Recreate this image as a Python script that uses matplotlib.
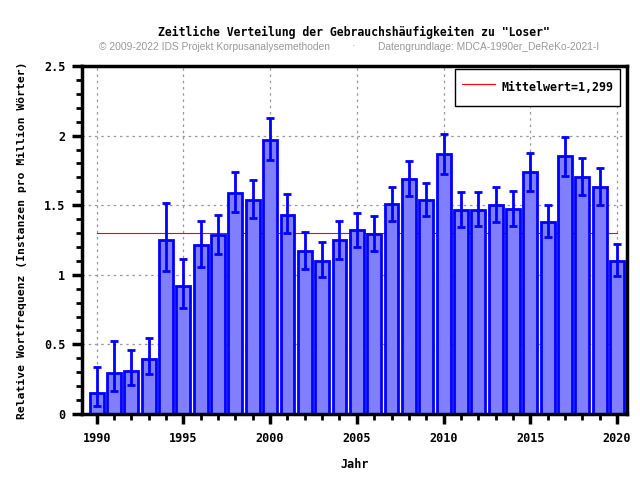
import matplotlib
matplotlib.use("Agg")
import matplotlib.pyplot as plt
from matplotlib.ticker import MultipleLocator, FixedLocator
import numpy as np

# data
years = list(range(1990, 2021))
freq = [0.148, 0.296, 0.31, 0.396, 1.249, 0.919, 1.213, 1.289, 1.585, 1.535,
        1.965, 1.43, 1.17, 1.098, 1.249, 1.32, 1.292, 1.506, 1.688, 1.538,
        1.865, 1.464, 1.464, 1.499, 1.473, 1.736, 1.378, 1.85, 1.70, 1.628,
        1.098]
err_hi = [0.339, 0.523, 0.458, 0.547, 1.514, 1.11, 1.385, 1.428, 1.736, 1.678,
          2.123, 1.578, 1.304, 1.234, 1.39, 1.447, 1.421, 1.633, 1.815, 1.662,
          2.015, 1.593, 1.593, 1.628, 1.60, 1.872, 1.499, 1.987, 1.836, 1.764,
          1.22]
err_lo = [0.06, 0.167, 0.21, 0.289, 1.027, 0.762, 1.055, 1.148, 1.449, 1.406,
          1.822, 1.299, 1.039, 0.981, 1.117, 1.199, 1.168, 1.39, 1.564, 1.421,
          1.726, 1.342, 1.349, 1.382, 1.349, 1.605, 1.268, 1.712, 1.576, 1.504,
          0.989]
mean_value = 1.299
ytick_labels = ['0', '0.5', '1', '1.5', '2', '2.5']

mono = {'family': 'DejaVu Sans Mono', 'weight': 'bold'}

x = np.array(years)
y = np.array(freq)
yerr = np.array([y - np.array(err_lo), np.array(err_hi) - y])

fig = plt.figure(figsize=(6.4, 4.8), dpi=100, facecolor='w')
axe = fig.add_axes([0.128, 0.1375, 0.851, 0.725])

axe.grid(color='#999999', linestyle=(0, (2, 3)), linewidth=0.9, zorder=0)
axe.set_axisbelow(True)

axe.plot([years[0], years[-1]], [mean_value, mean_value], color='red', linewidth=0.8,
         label='Mittelwert=1,299', zorder=1)
axe.bar(x, y, width=0.8, color='#8080ff', edgecolor='#0000ff', linewidth=2, zorder=2)
axe.errorbar(x, y, yerr=yerr, fmt='none', ecolor='#0000ff', elinewidth=2,
             capsize=2.7, capthick=2, zorder=3)

axe.set_xlim(1989.15, 2020.55)
axe.set_ylim(0, 2.5)
axe.xaxis.set_major_locator(FixedLocator([1990, 1995, 2000, 2005, 2010, 2015, 2020]))
axe.xaxis.set_minor_locator(MultipleLocator(1))
axe.set_yticks([0, 0.5, 1, 1.5, 2, 2.5])
axe.set_yticklabels(ytick_labels, **mono, fontsize=8.5)
axe.yaxis.set_minor_locator(MultipleLocator(0.1))
for lab in axe.get_xticklabels():
    lab.set_fontfamily('DejaVu Sans Mono')
    lab.set_fontweight('bold')
    lab.set_fontsize(8.5)
axe.tick_params(axis='both', which='major', direction='out', length=7, width=2.5)
axe.tick_params(axis='x', which='major', pad=6)
axe.tick_params(axis='y', which='major', pad=5)
axe.tick_params(axis='both', which='minor', direction='out', length=4, width=2)
for s in axe.spines.values():
    s.set_linewidth(2.5)

axe.set_xlabel('Jahr', fontsize=8.5, labelpad=9, **mono)
axe.set_ylabel('Relative Wortfrequenz (Instanzen pro Million Wörter)', fontsize=8.2,
               labelpad=12, **mono)

fig.text(0.553, 0.933, 'Zeitliche Verteilung der Gebrauchshäufigkeiten zu "Loser"',
         ha='center', va='center', fontsize=8.3, **mono)
fig.text(0.335, 0.903, '© 2009-2022 IDS Projekt Korpusanalysemethoden',
         ha='center', va='center', fontsize=7.35, color='#999999', family='Liberation Sans')
fig.text(0.552, 0.903, '·', ha='center', va='center', fontsize=7.35, color='#999999',
         family='Liberation Sans')
fig.text(0.763, 0.903, 'Datengrundlage: MDCA-1990er_DeReKo-2021-I',
         ha='center', va='center', fontsize=7.35, color='#999999', family='Liberation Sans')

leg = axe.legend(loc='upper right', prop={'family': 'DejaVu Sans Mono', 'weight': 'bold', 'size': 8.4},
                 fancybox=False, edgecolor='black', framealpha=1, handlelength=2.85,
                 handleheight=2.6, borderpad=0.6, handletextpad=0.5, borderaxespad=0,
                 bbox_to_anchor=(0.988, 0.991))
leg.get_frame().set_linewidth(1)

plt.savefig('out.png', dpi=100)
